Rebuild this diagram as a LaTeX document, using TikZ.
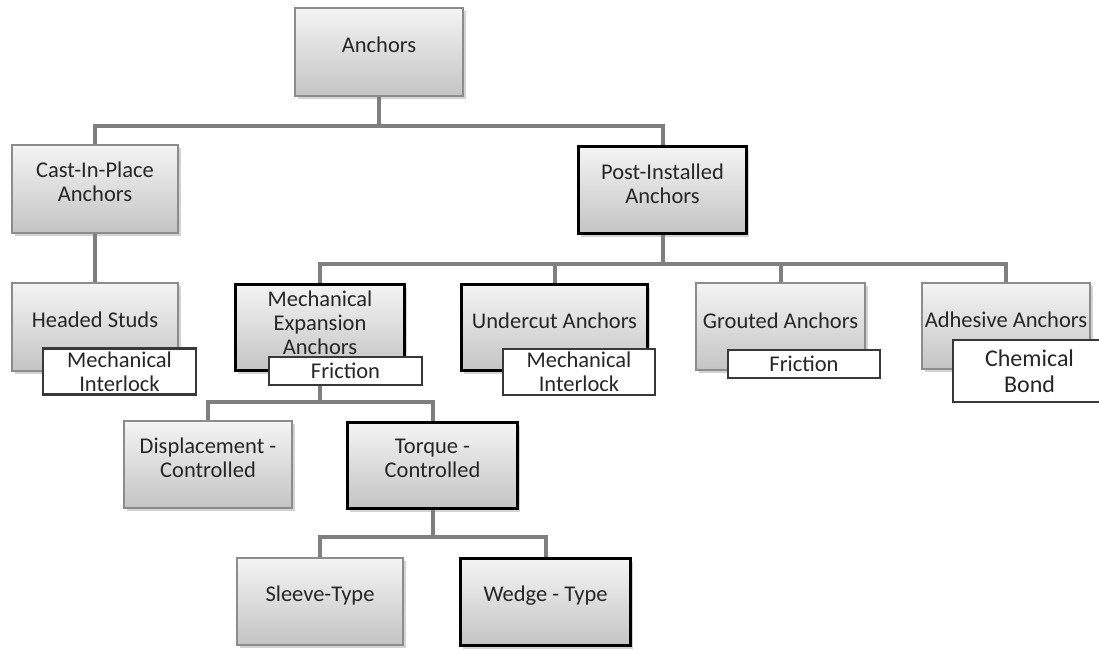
\documentclass[tikz,border=0pt]{standalone}
\usepackage{fontspec}
\setmainfont{Carlito}
\usetikzlibrary{shadows}
\definecolor{conncol}{HTML}{7F7F7F}
\definecolor{boxedge}{HTML}{8C8C8C}
\definecolor{boxtop}{HTML}{F4F4F4}
\definecolor{boxbot}{HTML}{C4C4C4}
\definecolor{tagedge}{HTML}{383838}
\definecolor{txtcol}{HTML}{262626}
\pgfdeclarelayer{background}
\pgfsetlayers{background,main}
\begin{document}
\begin{tikzpicture}[x=1pt,y=-1pt,
  txt/.style={align=center, text=txtcol, font=\fontsize{22.5}{24}\selectfont},
  box/.style={draw=boxedge, line width=1.5pt, top color=boxtop, bottom color=boxbot,
    drop shadow={shadow xshift=2.5pt, shadow yshift=-3pt, opacity=0.35}, inner sep=0pt},
  boldbox/.style={box, draw=black, line width=3.5pt},
  tagbox/.style={draw=tagedge, line width=2.4pt, fill=white, inner sep=0pt, txt},
  conn/.style={draw=conncol, line width=4pt}
]
\useasboundingbox (0,0) rectangle (1099,649);

% main boxes
\node[box, minimum width=168pt, minimum height=88pt, label={[txt,yshift=7pt]center:Anchors}] (anchors) at (379,52) {};
\node[box, minimum width=166pt, minimum height=88pt, label={[txt,yshift=7pt]center:Cast-In-Place\\Anchors}] (cip) at (95,189) {};
\node[boldbox, minimum width=168pt, minimum height=87pt, label={[txt,yshift=6pt]center:Post-Installed\\Anchors}] (post) at (662.5,190) {};
\node[box, minimum width=166pt, minimum height=88pt, label={[txt,yshift=7pt]center:Headed Studs}] (headed) at (95,327) {};
\node[boldbox, minimum width=169pt, minimum height=86pt, label={[txt,yshift=5pt]center:Mechanical\\Expansion\\Anchors}] (mechexp) at (320,327.5) {};
\node[boldbox, minimum width=186pt, minimum height=86pt, label={[txt,yshift=7pt]center:Undercut Anchors}] (undercut) at (554.5,327.5) {};
\node[box, minimum width=169pt, minimum height=87pt, label={[txt,yshift=6pt]center:Grouted Anchors}] (grouted) at (780.5,326.5) {};
\node[box, minimum width=168pt, minimum height=86pt, label={[txt,yshift=6pt]center:Adhesive Anchors}] (adhesive) at (1006,326) {};
\node[box, minimum width=168pt, minimum height=87pt, label={[txt,yshift=7pt]center:Displacement -\\Controlled}] (disp) at (208,464.5) {};
\node[boldbox, minimum width=170pt, minimum height=86pt, label={[txt,yshift=7pt]center:Torque -\\Controlled}] (torque) at (432.5,465.5) {};
\node[box, minimum width=166pt, minimum height=87pt, label={[txt,yshift=6pt]center:Sleeve-Type}] (sleeve) at (320,601.5) {};
\node[boldbox, minimum width=170pt, minimum height=87pt, label={[txt,yshift=6pt]center:Wedge - Type}] (wedge) at (545.5,602) {};

% tags
\node[tagbox, minimum width=153pt, minimum height=46pt] (tagheaded) at (119.5,371.5) {Mechanical\\Interlock};
\node[tagbox, minimum width=153pt, minimum height=28pt] (tagmech) at (345.5,371) {Friction};
\node[tagbox, minimum width=152pt, minimum height=46pt] (tagunder) at (579,372) {Mechanical\\Interlock};
\node[tagbox, minimum width=152pt, minimum height=28pt] (taggrout) at (804,364) {Friction};
\node[tagbox, minimum width=153pt, minimum height=62pt, font=\fontsize{24}{26}\selectfont] (tagadh) at (1029.5,371) {Chemical\\Bond};

% bus points
\coordinate (bus1) at (379,126);
\coordinate (bus2) at (662.5,264);
\coordinate (bus3) at (320,402);
\coordinate (bus4) at (432.5,537);

\begin{pgfonlayer}{background}
\draw[conn] (anchors.south) -- (bus1) -| (cip.north);
\draw[conn] (bus1) -| (post.north);
\draw[conn] (cip.south) -- (headed.north);
\draw[conn] (post.south) -- (bus2) -| (mechexp.north);
\draw[conn] (bus2) -| (undercut.north);
\draw[conn] (bus2) -| (grouted.north);
\draw[conn] (bus2) -| (adhesive.north);
\draw[conn] (mechexp.south) -- (bus3) -| (disp.north);
\draw[conn] (bus3) -| (torque.north);
\draw[conn] (torque.south) -- (bus4) -| (sleeve.north);
\draw[conn] (bus4) -| (wedge.north);
\end{pgfonlayer}
\end{tikzpicture}
\end{document}
